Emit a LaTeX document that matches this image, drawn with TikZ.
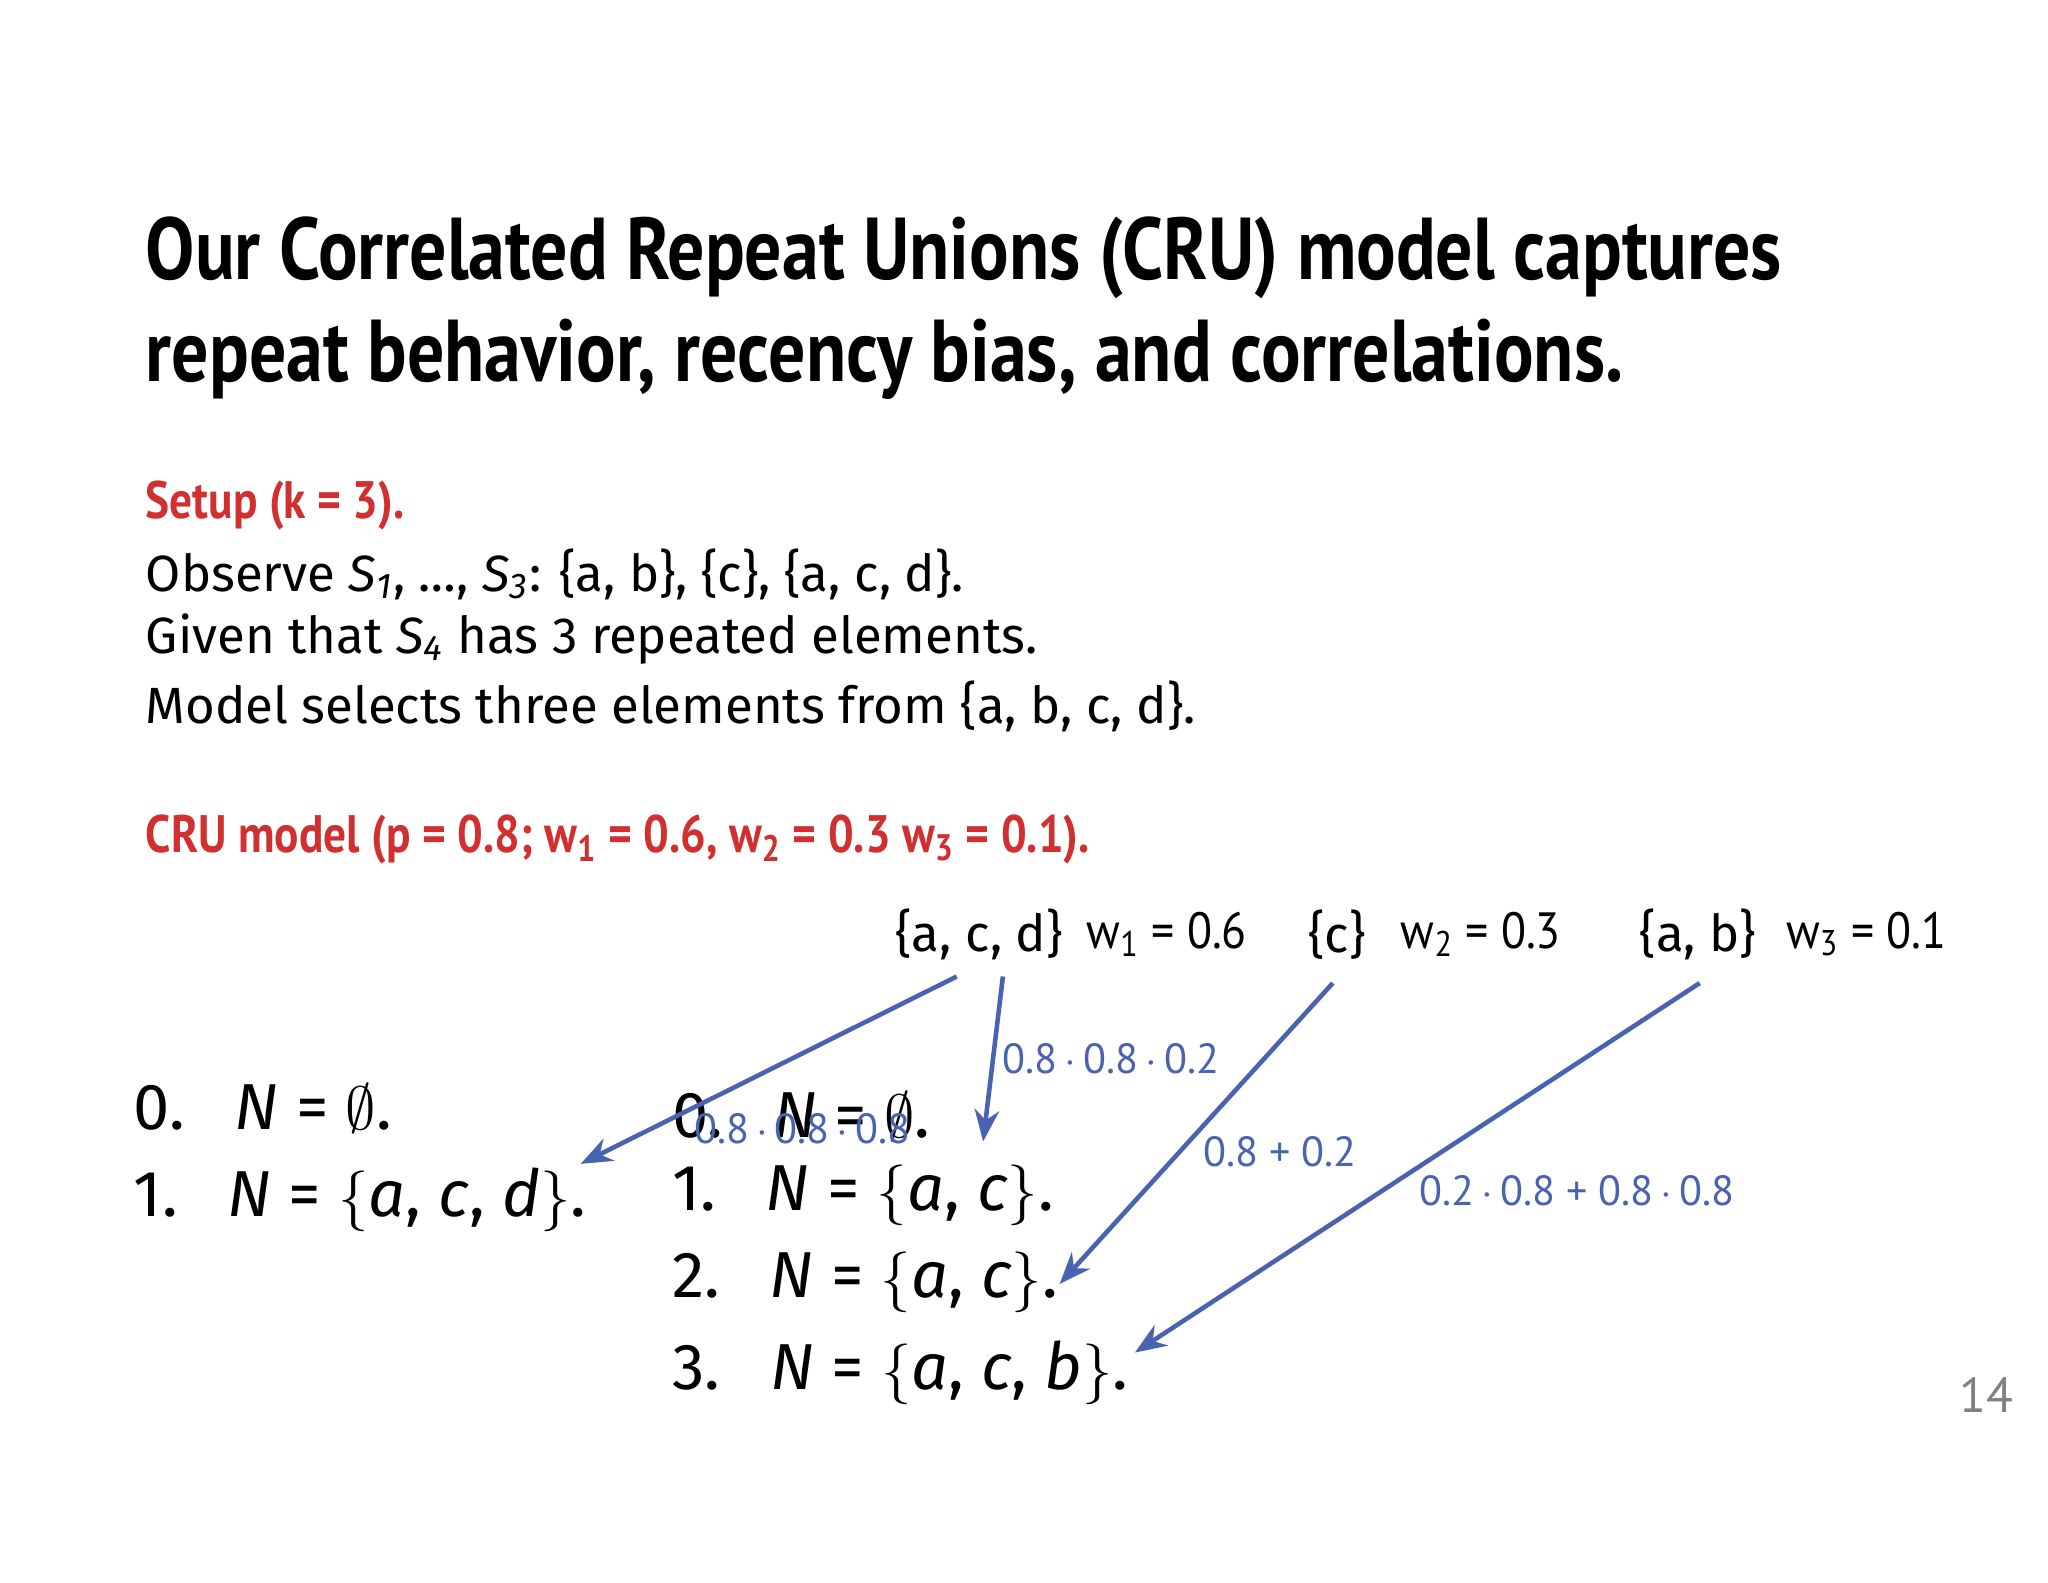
\documentclass[tikz,border=0pt]{standalone}
\usepackage{amsmath,amssymb}
\usepackage{fontspec}
\setmainfont{Fira Sans}
\newfontfamily\titlefont{PT Sans}
\usetikzlibrary{arrows.meta}
\definecolor{cred}{HTML}{D0302F}
\definecolor{cblue}{HTML}{4A63B0}
\newcommand{\vi}[1]{\textit{#1}}
\tikzset{
 tt/.style={anchor=west,inner sep=0pt},
 body/.style={tt,font=\fontsize{14.5}{18}\selectfont},
 lst/.style={tt,font=\fontsize{18.5}{22}\selectfont},
 lab/.style={inner sep=0pt,text=cblue,font=\titlefont\fontsize{12}{14}\selectfont},
 arr/.style={cblue,line width=1.3pt,-{Stealth[length=9pt,width=7pt]}}
}
\begin{document}
\begin{tikzpicture}[x=0.0132cm,y=-0.0132cm]
\useasboundingbox[fill=white] (0,0) rectangle (1552,1199);
\node[tt] (t1) at (110,195) {\titlefont\bfseries\fontsize{25}{30}\selectfont\scalebox{0.84}[1]{Our Correlated Repeat Unions (CRU) model captures}};
\node[tt] (t2) at (110,272) {\titlefont\bfseries\fontsize{25}{30}\selectfont\scalebox{0.84}[1]{repeat behavior, recency bias, and correlations.}};
\node[tt,text=cred] (s) at (110,383) {\titlefont\bfseries\fontsize{15}{18}\selectfont\scalebox{0.86}[1]{Setup (k = 3).}};
\node[body] (o) at (110,435) {Observe \vi{S\textsubscript{1}}, \dots, \vi{S\textsubscript{3}}: \{a, b\}, \{c\}, \{a, c, d\}.};
\node[body] (g) at (110,484) {Given that \vi{S\textsubscript{4}} has 3 repeated elements.};
\node[body] (m) at (110,535) {Model selects three elements from \{a, b, c, d\}.};
\node[tt,text=cred] (c) at (110,636) {\titlefont\bfseries\fontsize{15}{18}\selectfont\scalebox{0.86}[1]{CRU model (p = 0.8; w\textsubscript{1} = 0.6, w\textsubscript{2} = 0.3 w\textsubscript{3} = 0.1).}};
\node[body] (acd) at (678,708) {\{a, c, d\}};
\node[body] (w1) at (823,708) {\titlefont\scalebox{0.9}[1]{w\textsubscript{1} = 0.6}};
\node[body] (cc) at (991,708) {\{c\}};
\node[body] (w2) at (1061,708) {\titlefont\scalebox{0.9}[1]{w\textsubscript{2} = 0.3}};
\node[body] (ab) at (1242,708) {\{a, b\}};
\node[body] (w3) at (1353,708) {\titlefont\scalebox{0.9}[1]{w\textsubscript{3} = 0.1}};
\node[lst] (l0) at (101,840) {0.\enspace\ \vi{N} = $\emptyset$.};
\node[lst] (l1) at (101,909) {1.\enspace\ \vi{N} = $\{$\vi{a}, \vi{c}, \vi{d}$\}$.};
\node[lst] (r0) at (509,846) {0.\enspace\ \vi{N} = $\emptyset$.};
\node[lst] (r1) at (509,906) {1.\enspace\ \vi{N} = $\{$\vi{a}, \vi{c}$\}$.};
\node[lst] (r2) at (509,972) {2.\enspace\ \vi{N} = $\{$\vi{a}, \vi{c}$\}$.};
\node[lst] (r3) at (509,1040) {3.\enspace\ \vi{N} = $\{$\vi{a}, \vi{c}, \vi{b}$\}$.};
\coordinate (a1s) at (725,740); \coordinate (a1e) at (440,882);
\coordinate (a2s) at (760,740); \coordinate (a2e) at (745,865);
\coordinate (a3s) at (1010,745); \coordinate (a3e) at (803,973);
\coordinate (a4s) at (1288,745); \coordinate (a4e) at (860,1025);
\draw[arr] (a1s) -- (a1e);
\draw[arr] (a2s) -- (a2e);
\draw[arr] (a3s) -- (a3e);
\draw[arr] (a4s) -- (a4e);
\node[lab] (b1) at (842,802) {0.8\,$\cdot$\,0.8\,$\cdot$\,0.2};
\node[lab] (b2) at (608,855) {0.8\,$\cdot$\,0.8\,$\cdot$\,0.8};
\node[lab] (b3) at (970,873) {0.8 + 0.2};
\node[lab] (b4) at (1195,902) {0.2\,$\cdot$\,0.8 + 0.8\,$\cdot$\,0.8};
\node[inner sep=0pt,text=gray,font=\titlefont\fontsize{14}{16}\selectfont] (pg) at (1505,1057) {14};
\end{tikzpicture}
\end{document}
